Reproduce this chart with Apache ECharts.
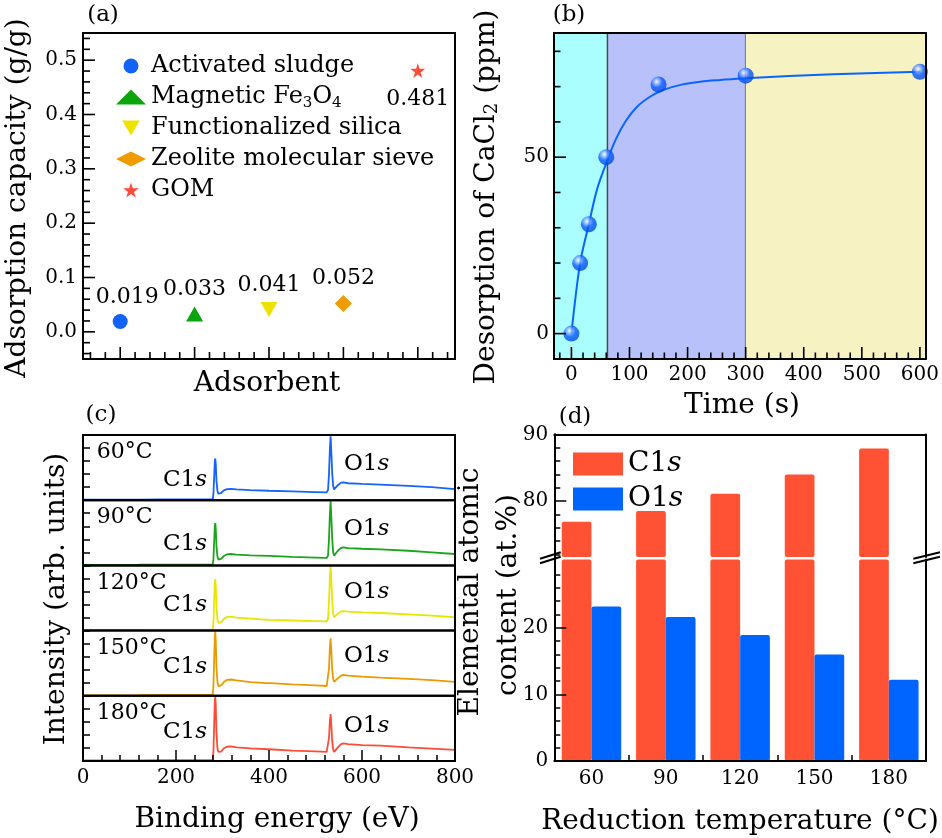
<!DOCTYPE html>
<html><head><meta charset="utf-8">
<script src="https://cdn.jsdelivr.net/npm/echarts@6/dist/echarts.min.js"></script>
<style>html,body{margin:0;padding:0;background:#fff}#c{width:942px;height:838px}</style>
</head><body><div id="c"></div>
<script>
// ---------------- DATA ----------------
// (a) adsorption capacity
const adsorbents = ['Activated sludge', 'Magnetic Fe3O4', 'Functionalized silica', 'Zeolite molecular sieve', 'GOM'];
const capacities = [0.019, 0.033, 0.041, 0.052, 0.481];
const aYMajor = [0, 0.1, 0.2, 0.3, 0.4, 0.5];

// (b) desorption vs time
const timeSec = [0, 15, 30, 60, 150, 300, 600];
const desorption = [0, 20, 31, 50, 70.6, 73.1, 74.2];
const fitTime = [0, 15, 30, 44, 60, 76, 93, 113, 136, 159, 188, 222, 257, 300, 450, 600];
const fitDesorption = [0, 20, 31, 40.8, 48.3, 54.9, 60.1, 64.3, 67.2, 69.1, 70.5, 71.4, 71.9, 72.4, 73.5, 74.2];
const stageBounds = [-30, 62, 300, 610];
const bXMajor = [0, 100, 200, 300, 400, 500, 600];
const bYMajor = [0, 50];

// (c) XPS survey spectra (normalised intensity within each strip)
const xpsTemps = ['60°C', '90°C', '120°C', '150°C', '180°C'];
const xps60 = [[0,0.008],[50,0.01],[120,0.01],[166,0.012],[169,0.03],[172,0.012],[228,0.012],[231,0.02],[234,0.012],[279,0.014],[280.5,0.1],[282,0.35],[283.5,0.6],[284.5,0.64],[285.5,0.55],[287,0.3],[289,0.15],[291,0.1],[293,0.09],[297,0.11],[303,0.15],[310,0.17],[318,0.175],[330,0.165],[360,0.155],[400,0.145],[450,0.135],[500,0.125],[524,0.12],[527,0.16],[529,0.4],[531,0.8],[532.5,0.98],[534,0.75],[536,0.4],[538,0.22],[540,0.165],[543,0.175],[548,0.23],[555,0.27],[560,0.275],[570,0.26],[600,0.25],[640,0.24],[700,0.22],[750,0.2],[800,0.17]];
const xps90 = [[0,0.008],[120,0.01],[166,0.012],[169,0.028],[172,0.012],[228,0.012],[231,0.02],[234,0.012],[279,0.014],[280.5,0.1],[282,0.36],[283.5,0.61],[284.5,0.65],[285.5,0.56],[287,0.3],[289,0.14],[291,0.09],[293,0.08],[297,0.1],[303,0.145],[310,0.17],[318,0.175],[330,0.165],[360,0.155],[400,0.145],[450,0.13],[500,0.12],[524,0.114],[527,0.15],[529,0.4],[531,0.8],[532.5,0.985],[534,0.75],[536,0.4],[538,0.2],[540,0.15],[543,0.165],[548,0.225],[555,0.27],[560,0.277],[570,0.265],[600,0.255],[640,0.245],[700,0.225],[750,0.2],[800,0.175]];
const xps120 = [[0,0.008],[120,0.01],[166,0.012],[169,0.03],[172,0.012],[228,0.012],[231,0.02],[234,0.012],[279,0.014],[280.5,0.12],[282,0.45],[283.5,0.75],[284.5,0.79],[285.5,0.68],[287,0.38],[289,0.18],[291,0.12],[293,0.11],[297,0.13],[303,0.18],[310,0.21],[318,0.215],[330,0.2],[360,0.185],[400,0.165],[450,0.155],[500,0.145],[524,0.14],[527,0.18],[529,0.45],[531,0.82],[532.5,0.985],[534,0.78],[536,0.45],[538,0.26],[540,0.205],[543,0.215],[548,0.26],[555,0.295],[560,0.3],[570,0.29],[600,0.28],[640,0.27],[700,0.25],[750,0.23],[800,0.205]];
const xps150 = [[0,0.008],[120,0.01],[166,0.012],[169,0.035],[172,0.012],[228,0.012],[231,0.025],[234,0.012],[279,0.014],[280.5,0.15],[282,0.55],[283.5,0.93],[284.5,0.985],[285.5,0.85],[287,0.45],[289,0.22],[291,0.15],[293,0.14],[297,0.16],[303,0.21],[310,0.245],[318,0.25],[330,0.235],[360,0.21],[395,0.195],[399,0.22],[403,0.195],[450,0.175],[500,0.16],[524,0.15],[527,0.18],[529,0.42],[531,0.75],[532.5,0.88],[534,0.7],[536,0.4],[538,0.26],[540,0.215],[543,0.225],[548,0.27],[555,0.31],[560,0.32],[570,0.31],[600,0.295],[640,0.28],[700,0.26],[750,0.24],[800,0.215]];
const xps180 = [[0,0.008],[120,0.01],[166,0.012],[169,0.035],[172,0.012],[228,0.012],[231,0.03],[234,0.012],[279,0.014],[280.5,0.15],[282,0.55],[283.5,0.93],[284.5,0.985],[285.5,0.85],[287,0.45],[289,0.2],[291,0.14],[293,0.125],[297,0.145],[303,0.195],[310,0.22],[318,0.225],[330,0.21],[360,0.195],[400,0.18],[450,0.16],[500,0.148],[524,0.14],[527,0.17],[529,0.35],[531,0.62],[532.5,0.72],[534,0.55],[536,0.3],[538,0.18],[540,0.14],[543,0.15],[548,0.21],[555,0.26],[560,0.27],[570,0.26],[600,0.245],[640,0.235],[700,0.21],[750,0.19],[800,0.17]];
const xpsSpectra = [xps60, xps90, xps120, xps150, xps180];

// (d) elemental content
const reductionTemps = ['60', '90', '120', '150', '180'];
const c1sContent = [76.9, 78.5, 81.1, 84.0, 87.9];
const o1sContent = [23.2, 21.6, 18.9, 16.0, 12.2];
const dUpperMajor = [80, 90];
const dLowerMajor = [0, 10, 20];

// ---------------- STYLE / LAYOUT ----------------
const F = 'DejaVu Serif';
const BLACK = '#000';
const aColors = ['#1262f8', '#0aa50a', '#eee200', '#ee9c00', '#ff4b3a'];
const aSymbols = ['circle', 'triangle', 'path://M0,0L20,0L10,17Z', 'diamond',
  'path://M50,0L61,35L98,35L68,57L79,91L50,70L21,91L32,57L2,35L39,35Z'];
const aSizes = [15, [17, 15], [17, 15], [17, 17], 15];
const xpsColors = ['#1463ff', '#1aa51a', '#e6e600', '#eb9b00', '#ff4b36'];
const redBar = '#ff5234', blueBar = '#0064ff';

function range(a, b, step, skip) {
  const out = [];
  for (let v = a; v <= b + 1e-9; v += step) {
    const r = Math.round(v * 1000) / 1000;
    if (!skip || !skip(r)) out.push(r);
  }
  return out;
}
const isMult = (v, m) => Math.abs(v / m - Math.round(v / m)) < 1e-6;

const grids = [], xAxes = [], yAxes = [], series = [], graphics = [];
const mkLine = () => ({ show: true, onZero: false, lineStyle: { color: BLACK, width: 2 } });
const tickLine = { color: BLACK, width: 1.5 };
function tickAxis(o) {
  return Object.assign({
    type: 'value', z: 10,
    axisLine: mkLine(), splitLine: { show: false },
    axisLabel: { show: false },
    axisTick: { show: false }
  }, o);
}
function ticks(vals, len) {
  return { show: true, inside: true, length: len, customValues: vals, lineStyle: tickLine };
}
function labels(vals, margin, fmt) {
  const o = { show: true, customValues: vals, margin: margin, fontFamily: F, fontSize: 20, color: BLACK };
  if (fmt) o.formatter = fmt;
  return o;
}
function frame(gi, xr, yr) {
  xAxes.push(tickAxis({ gridIndex: gi, min: xr[0], max: xr[1], position: 'top' }));
  yAxes.push(tickAxis({ gridIndex: gi, min: yr[0], max: yr[1], position: 'right' }));
}

// ---------- (a) ----------
const aXR = [0.5, 5.5], aYR = [-0.05, 0.55];
const giA = grids.length;
grids.push({ left: 83, top: 33, width: 372, height: 326 });
const axA = xAxes.length;
xAxes.push(tickAxis({ gridIndex: giA, min: aXR[0], max: aXR[1], position: 'bottom' }));
const ayA = yAxes.length;
yAxes.push(tickAxis({ gridIndex: giA, min: aYR[0], max: aYR[1], position: 'left', axisLabel: labels(aYMajor, 6, v => v.toFixed(1)) }));
frame(giA, aXR, aYR);
adsorbents.forEach((name, i) => {
  series.push({
    name: name, type: 'scatter', xAxisIndex: axA, yAxisIndex: ayA, z: 5,
    symbol: aSymbols[i], symbolSize: aSizes[i],
    itemStyle: { color: aColors[i], opacity: 1 },
    data: [[i + 1, capacities[i]]],
    label: {
      show: true, position: i === 4 ? 'bottom' : 'top', distance: i === 4 ? 10 : 6,
      offset: i === 0 ? [7, 0] : [0, 0],
      fontFamily: F, fontSize: 22, color: BLACK,
      formatter: p => p.value[1].toFixed(3)
    }
  });
});

// ---------- (b) ----------
const bXR = [-30, 610], bYR = [-7.2, 85.2];
const giB = grids.length;
grids.push({ left: 554, top: 33, width: 372, height: 326 });
const axB = xAxes.length;
xAxes.push(tickAxis({ gridIndex: giB, min: bXR[0], max: bXR[1], position: 'bottom', axisLabel: labels(bXMajor, 6) }));
const ayB = yAxes.length;
yAxes.push(tickAxis({ gridIndex: giB, min: bYR[0], max: bYR[1], position: 'left', axisLabel: labels(bYMajor, 5) }));
frame(giB, bXR, bYR);
const bandColors = ['#aafefd', '#b9c1fa', '#f6f2c1'];
series.push({
  name: 'stages', type: 'line', xAxisIndex: axB, yAxisIndex: ayB, z: 1, data: [], silent: true,
  markArea: {
    silent: true,
    data: bandColors.map((c, i) => [
      { xAxis: stageBounds[i], itemStyle: { color: c, borderColor: '#4a4a4a', borderWidth: i === 1 ? 1.5 : 0 } },
      { xAxis: stageBounds[i + 1] }
    ])
  }
});
series.push({
  name: 'fit', type: 'line', xAxisIndex: axB, yAxisIndex: ayB, z: 3,
  smooth: 0.35, showSymbol: false, symbol: 'none',
  lineStyle: { color: '#0a64ff', width: 2 },
  data: fitTime.map((t, i) => [t, fitDesorption[i]])
});
series.push({
  name: 'desorption', type: 'scatter', xAxisIndex: axB, yAxisIndex: ayB, z: 4,
  symbolSize: 16,
  itemStyle: {
    color: { type: 'radial', x: 0.38, y: 0.32, r: 0.72, colorStops: [
      { offset: 0, color: '#ffffff' }, { offset: 0.2, color: '#9dbdff' },
      { offset: 0.5, color: '#0b5cff' }, { offset: 1, color: '#0046d8' }] }
  },
  data: timeSec.map((t, i) => [t, desorption[i]])
});

// ---------- (c) ----------
const cTop = 435, cH = 65.2;
xpsSpectra.forEach((spec, i) => {
  const gi = grids.length;
  grids.push({ left: 83, top: cTop + cH * i, width: 372, height: cH, show: true, borderColor: BLACK, borderWidth: 2, z: 10 });
  const last = i === xpsSpectra.length - 1;
  const xi = xAxes.length;
  xAxes.push({
    gridIndex: gi, type: 'value', min: 0, max: 800, interval: 200, z: 10,
    axisLine: { show: false, onZero: false }, splitLine: { show: false },
    axisTick: { show: last, inside: true, length: 11, lineStyle: tickLine },
    minorTick: { show: last, splitNumber: 5, length: 6, lineStyle: tickLine },
    axisLabel: { show: last, margin: 7, fontFamily: F, fontSize: 20, color: BLACK },
    minorSplitLine: { show: false }
  });
  const yi = yAxes.length;
  yAxes.push({
    gridIndex: gi, type: 'value', min: 0, max: 1, interval: 0.2, z: 10,
    axisLine: { show: false, onZero: false }, splitLine: { show: false }, axisLabel: { show: false },
    axisTick: { show: true, inside: true, length: 7, lineStyle: tickLine }
  });
  series.push({
    name: xpsTemps[i], type: 'line', xAxisIndex: xi, yAxisIndex: yi, z: 3,
    symbol: 'none', lineStyle: { color: xpsColors[i], width: 1.8 },
    data: spec
  });
});

// ---------- (d) ----------
const dLeft = 554.3, dW = 371.7;
const giU = grids.length;
grids.push({ left: dLeft, top: 434.5, width: dW, height: 122.5 });
const giL = grids.length;
grids.push({ left: dLeft, top: 559.5, width: dW, height: 201.5 });
const axDU = xAxes.length;
xAxes.push({ gridIndex: giU, type: 'category', data: reductionTemps, position: 'top', z: 10,
  axisLine: mkLine(), axisTick: { show: false }, axisLabel: { show: false }, splitLine: { show: false } });
const axDL = xAxes.length;
xAxes.push({ gridIndex: giL, type: 'category', data: reductionTemps, position: 'bottom', z: 10,
  axisLine: mkLine(), splitLine: { show: false },
  axisTick: { show: true, inside: true, length: 6, lineStyle: tickLine },
  axisLabel: { show: true, margin: 8, fontFamily: F, fontSize: 20, color: BLACK } });
const ayDU = yAxes.length;
yAxes.push(tickAxis({ gridIndex: giU, min: 71.6, max: 90, position: 'left', axisTick: ticks(dUpperMajor, 12), axisLabel: labels(dUpperMajor, 6) }));
yAxes.push(tickAxis({ gridIndex: giU, min: 71.6, max: 90, position: 'left', axisTick: ticks(range(72, 88, 2, v => isMult(v, 10)), 6) }));
yAxes.push(tickAxis({ gridIndex: giU, min: 71.6, max: 90, position: 'right' }));
const ayDL = yAxes.length;
yAxes.push(tickAxis({ gridIndex: giL, min: 0, max: 30.25, position: 'left', axisTick: ticks(dLowerMajor, 12), axisLabel: labels(dLowerMajor, 6) }));
yAxes.push(tickAxis({ gridIndex: giL, min: 0, max: 30.25, position: 'left', axisTick: ticks(range(2, 28, 2, v => isMult(v, 10)), 6) }));
yAxes.push(tickAxis({ gridIndex: giL, min: 0, max: 30.25, position: 'right' }));
[[axDU, ayDU], [axDL, ayDL]].forEach(([xi, yi]) => {
  series.push({ name: 'C1s', type: 'bar', xAxisIndex: xi, yAxisIndex: yi, z: 3, clip: true,
    barCategoryGap: '20%', barGap: '0%', itemStyle: { color: redBar, borderRadius: 2 }, data: c1sContent });
  series.push({ name: 'O1s', type: 'bar', xAxisIndex: xi, yAxisIndex: yi, z: 3, clip: true,
    barCategoryGap: '20%', barGap: '0%', itemStyle: { color: blueBar, borderRadius: 2 }, data: o1sContent });
});

// ---------------- TEXT ----------------
function txt(text, x, y, size, opts) {
  opts = opts || {};
  const align = opts.align || 'center';
  return {
    type: 'text', x: x, y: y, rotation: opts.rot ? Math.PI / 2 : 0, z: 100,
    style: Object.assign({
      text: text, fontFamily: F, fontSize: size, fill: BLACK,
      align: align, textAlign: align, verticalAlign: 'middle', textVerticalAlign: 'middle'
    }, opts.rich ? { rich: opts.rich } : {})
  };
}
const richS = size => ({
  r: { fontFamily: F, fontSize: size, color: BLACK },
  i: { fontFamily: F, fontSize: size, color: BLACK, fontStyle: 'italic' },
  sub: { fontFamily: F, fontSize: Math.round(size * 0.65), color: BLACK, verticalAlign: 'bottom' }
});
graphics.push(txt('(a)', 103, 15, 23));
graphics.push(txt('(b)', 569, 15, 23));
graphics.push(txt('(c)', 101, 415, 23));
graphics.push(txt('(d)', 575, 417, 23));
graphics.push(txt('Adsorption capacity (g/g)', 18, 198, 28, { rot: true }));
graphics.push(txt('Adsorbent', 267, 384, 28));
graphics.push(txt('{r|Desorption of CaCl}{sub|2}{r| (ppm)}', 487, 197, 28, { rot: true, rich: richS(28) }));
graphics.push(txt('Time (s)', 742, 406, 28));
graphics.push(txt('Intensity (arb. units)', 57, 599, 28, { rot: true }));
graphics.push(txt('Binding energy (eV)', 277, 820, 28));
graphics.push(txt('Elemental atomic', 471, 592, 28, { rot: true }));
graphics.push(txt('content (at.%)', 509, 595, 28, { rot: true }));
graphics.push(txt('Reduction temperature (°C)', 740, 822, 28));
const c1Off = [45, 43.6, 39.3, 36, 36];
const o1Off = [29, 29.3, 27, 25.3, 30.3];
xpsTemps.forEach((t, i) => {
  const T = cTop + cH * i;
  graphics.push(txt(t, 96.7, T + 17.5, 22, { align: 'left' }));
  graphics.push(txt('{r|C1}{i|s}', 207, T + c1Off[i], 23, { align: 'right', rich: richS(23) }));
  graphics.push(txt('{r|O1}{i|s}', 344, T + o1Off[i], 23, { align: 'left', rich: richS(23) }));
});
// axis-break marks in (d)
[[540, 560.7], [913.3, 940]].forEach(([x1, x2]) => {
  [0, 4.5].forEach(d => {
    graphics.push({ type: 'line', z: 100, shape: { x1: x1, y1: 558.8 + d, x2: x2, y2: 552.2 + d },
      style: { stroke: BLACK, lineWidth: 2 } });
  });
});

const option = {
  animation: false,
  backgroundColor: '#fff',
  grid: grids, xAxis: xAxes, yAxis: yAxes, series: series, graphic: graphics,
  legend: [
    {
      data: adsorbents, orient: 'vertical', left: 116, top: 52, padding: 0,
      itemWidth: 30, itemHeight: 15, itemGap: 3, selectedMode: false,
      textStyle: {
        fontFamily: F, fontSize: 24, color: BLACK, lineHeight: 28,
        rich: {
          t: { fontFamily: F, fontSize: 24, color: BLACK, lineHeight: 28 },
          s: { fontFamily: F, fontSize: 15, color: BLACK, verticalAlign: 'bottom', lineHeight: 22 }
        }
      },
      formatter: name => name === 'Magnetic Fe3O4' ? '{t|Magnetic Fe}{s|3}{t|O}{s|4}' : '{t|' + name + '}'
    },
    {
      data: ['C1s', 'O1s'], orient: 'vertical', left: 573, top: 450, padding: 0,
      itemWidth: 50, itemHeight: 23, itemGap: 7, icon: 'rect', selectedMode: false,
      textStyle: {
        fontFamily: F, fontSize: 28, color: BLACK, lineHeight: 24,
        rich: {
          r: { fontFamily: F, fontSize: 28, color: BLACK, lineHeight: 24 },
          i: { fontFamily: F, fontSize: 28, color: BLACK, fontStyle: 'italic', lineHeight: 24 }
        }
      },
      formatter: name => '{r|' + name.slice(0, -1) + '}{i|s}'
    }
  ]
};
const chart = echarts.init(document.getElementById('c'));
chart.setOption(option);

// inside tick marks for (a) and (b), positioned through the axes' own scales
const tickEls = [];
function addTicks(xi, yi, xr, yr, groups, lens) {
  const px = v => chart.convertToPixel({ xAxisIndex: xi }, v);
  const py = v => chart.convertToPixel({ yAxisIndex: yi }, v);
  const x0 = px(xr[0]), yb = py(yr[0]);
  groups.forEach((vals, k) => vals.forEach(v => {
    let shape;
    if (k < 2) { const x = px(v); shape = { x1: x, y1: yb, x2: x, y2: yb - lens[k] }; }
    else { const y = py(v); shape = { x1: x0, y1: y, x2: x0 + lens[k], y2: y }; }
    tickEls.push({ type: 'line', z: 100, silent: true, shape: shape, style: { stroke: BLACK, lineWidth: 1.6 } });
  }));
}
addTicks(axA, ayA, aXR, aYR, [
  [1, 2, 3, 4, 5],
  range(0.6, 5.4, 0.2, v => isMult(v, 1)),
  aYMajor,
  range(-0.04, 0.54, 0.02, v => isMult(v, 0.1))
], [12, 7, 12, 7]);
addTicks(axB, ayB, bXR, bYR, [
  bXMajor,
  range(-20, 600, 20, v => isMult(v, 100)),
  bYMajor,
  range(10, 80, 10, v => isMult(v, 50))
], [12, 6.5, 12, 6.5]);
chart.setOption({ graphic: graphics.concat(tickEls) }, { replaceMerge: ['graphic'] });
</script></body></html>
